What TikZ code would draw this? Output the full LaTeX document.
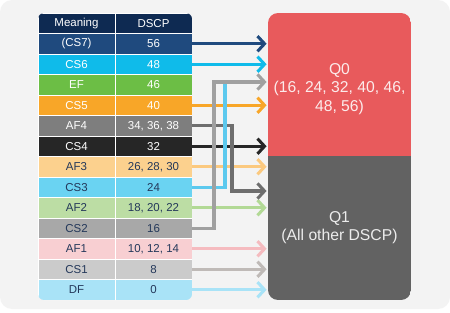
\documentclass[tikz,border=0pt]{standalone}
\usepackage{fontspec}
\setmainfont{Liberation Sans}
\usetikzlibrary{arrows.meta, positioning}

\definecolor{cardgray}{HTML}{F3F3F3}
\definecolor{hdrnavy}{HTML}{0E2A52}
\definecolor{txtnavy}{HTML}{24385A}
\definecolor{cssevencol}{HTML}{1F4A7E}
\definecolor{cssixcol}{HTML}{0FBBEA}
\definecolor{efcol}{HTML}{6CBE45}
\definecolor{csfivecol}{HTML}{F8A628}
\definecolor{affourcol}{HTML}{7E7E7E}
\definecolor{csfourcol}{HTML}{262626}
\definecolor{afthreecol}{HTML}{FCD18E}
\definecolor{csthreecol}{HTML}{6AD3F2}
\definecolor{aftwocol}{HTML}{BCDDA4}
\definecolor{cstwocol}{HTML}{A8A8A8}
\definecolor{afonecol}{HTML}{F8CFD2}
\definecolor{csonecol}{HTML}{CBCBCB}
\definecolor{dfcol}{HTML}{A9E3F7}
\definecolor{qzerocol}{HTML}{E85A5C}
\definecolor{qonecol}{HTML}{626262}
\definecolor{afthreeline}{HTML}{FBC97F}
\definecolor{csthreeline}{HTML}{5CC9EE}
\definecolor{aftwoline}{HTML}{B2D995}
\definecolor{cstwoline}{HTML}{A0A0A0}
\definecolor{afoneline}{HTML}{F5BBBF}
\definecolor{csoneline}{HTML}{BFBAB7}
\definecolor{affourline}{HTML}{6E6E6E}

\tikzset{
  cell/.style={minimum width=2.31cm, minimum height=0.615cm, inner sep=0pt,
    draw=white, line width=0.4pt, font=\fontsize{9.8}{11}\selectfont},
  darkcell/.style={cell, text=white},
  lightcell/.style={cell, text=txtnavy},
  queue/.style={minimum width=4.29cm, minimum height=4.29cm, inner sep=0pt},
  qtext/.style={align=center, font=\fontsize{13.4}{15.5}\selectfont},
  arr/.style={line width=2.6pt, -{Straight Barb[length=6pt,width=13pt]}, shorten >=1pt},
  wire/.style={line width=2.6pt},
}

\begin{document}
\begin{tikzpicture}[x=0.03cm, y=-0.03cm]
    \useasboundingbox (0,0) rectangle (450,313);
    \fill[white] (0,0) rectangle (450,313);
    \fill[cardgray, rounded corners=0.36cm] (0,0) rectangle (450,309);

    % DSCP table
    \begin{scope}
    \clip[rounded corners=0.18cm] (38,13) rectangle (192,300);
    \node[darkcell, fill=hdrnavy] (hdrmean) at (76.5,23.25) {Meaning};
    \node[darkcell, fill=hdrnavy] (hdrdscp) at (153.5,23.25) {DSCP};
    \node[darkcell, fill=cssevencol] (cs7m) at (76.5,43.75) {(CS7)};
    \node[darkcell, fill=cssevencol] (cs7d) at (153.5,43.75) {56};
    \node[darkcell, fill=cssixcol] (cs6m) at (76.5,64.25) {CS6};
    \node[darkcell, fill=cssixcol] (cs6d) at (153.5,64.25) {48};
    \node[darkcell, fill=efcol] (efm) at (76.5,84.75) {EF};
    \node[darkcell, fill=efcol] (efd) at (153.5,84.75) {46};
    \node[darkcell, fill=csfivecol] (cs5m) at (76.5,105.25) {CS5};
    \node[darkcell, fill=csfivecol] (cs5d) at (153.5,105.25) {40};
    \node[darkcell, fill=affourcol] (af4m) at (76.5,125.75) {AF4};
    \node[darkcell, fill=affourcol] (af4d) at (153.5,125.75) {34, 36, 38};
    \node[darkcell, fill=csfourcol] (cs4m) at (76.5,146.25) {CS4};
    \node[darkcell, fill=csfourcol] (cs4d) at (153.5,146.25) {32};
    \node[lightcell, fill=afthreecol] (af3m) at (76.5,166.75) {AF3};
    \node[lightcell, fill=afthreecol] (af3d) at (153.5,166.75) {26, 28, 30};
    \node[lightcell, fill=csthreecol] (cs3m) at (76.5,187.25) {CS3};
    \node[lightcell, fill=csthreecol] (cs3d) at (153.5,187.25) {24};
    \node[lightcell, fill=aftwocol] (af2m) at (76.5,207.75) {AF2};
    \node[lightcell, fill=aftwocol] (af2d) at (153.5,207.75) {18, 20, 22};
    \node[lightcell, fill=cstwocol] (cs2m) at (76.5,228.25) {CS2};
    \node[lightcell, fill=cstwocol] (cs2d) at (153.5,228.25) {16};
    \node[lightcell, fill=afonecol] (af1m) at (76.5,248.75) {AF1};
    \node[lightcell, fill=afonecol] (af1d) at (153.5,248.75) {10, 12, 14};
    \node[lightcell, fill=csonecol] (cs1m) at (76.5,269.25) {CS1};
    \node[lightcell, fill=csonecol] (cs1d) at (153.5,269.25) {8};
    \node[lightcell, fill=dfcol] (dfm) at (76.5,289.75) {DF};
    \node[lightcell, fill=dfcol] (dfd) at (153.5,289.75) {0};
    \end{scope}

    % queues
    \begin{scope}
    \clip[rounded corners=0.3cm] (268,13) rectangle (411,300);
    \node[queue, fill=qzerocol] (qzero) at (339.5,84.5) {};
    \node[queue, fill=qonecol] (qone) at (339.5,228) {};
    \end{scope}
    \node[qtext, text=white!88!qzerocol] (qzerolabel) at (339.5,89) {Q0\\(16, 24, 32, 40, 46,\\48, 56)};
    \node[qtext, text=white!88!qonecol] (qonelabel) at (339.5,228) {Q1\\(All other DSCP)};

    % mapping arrows
    \draw[arr, cssevencol] (cs7d.east) -- (cs7d.east -| qzero.west);
    \draw[arr, cssixcol] (cs6d.east) -- (cs6d.east -| qzero.west);
    \draw[arr, csfivecol] (cs5d.east) -- (cs5d.east -| qzero.west);
    \draw[arr, csfourcol] (cs4d.east) -- (cs4d.east -| qzero.west);
    \draw[arr, afthreeline] (af3d.east) -- (af3d.east -| qone.west);
    \draw[arr, aftwoline] (af2d.east) -- (af2d.east -| qone.west);
    \draw[arr, afoneline] (af1d.east) -- (af1d.east -| qone.west);
    \draw[arr, csoneline] (cs1d.east) -- (cs1d.east -| qone.west);
    \draw[arr, dfcol] (dfd.east) -- (dfd.east -| qone.west);

    \coordinate (affourdown) at (232,191);
    \coordinate (csthreeup) at (225,83);
    \coordinate (cstwoup) at (214,82);
    \draw[arr, affourline] (af4d.east) -| (affourdown) -- (affourdown -| qone.west);
    \draw[wire, csthreeline] (cs3d.east) -| (csthreeup);
    \draw[arr, cstwoline] (cs2d.east) -| (cstwoup) -- (cstwoup -| qzero.west);
\end{tikzpicture}
\end{document}
